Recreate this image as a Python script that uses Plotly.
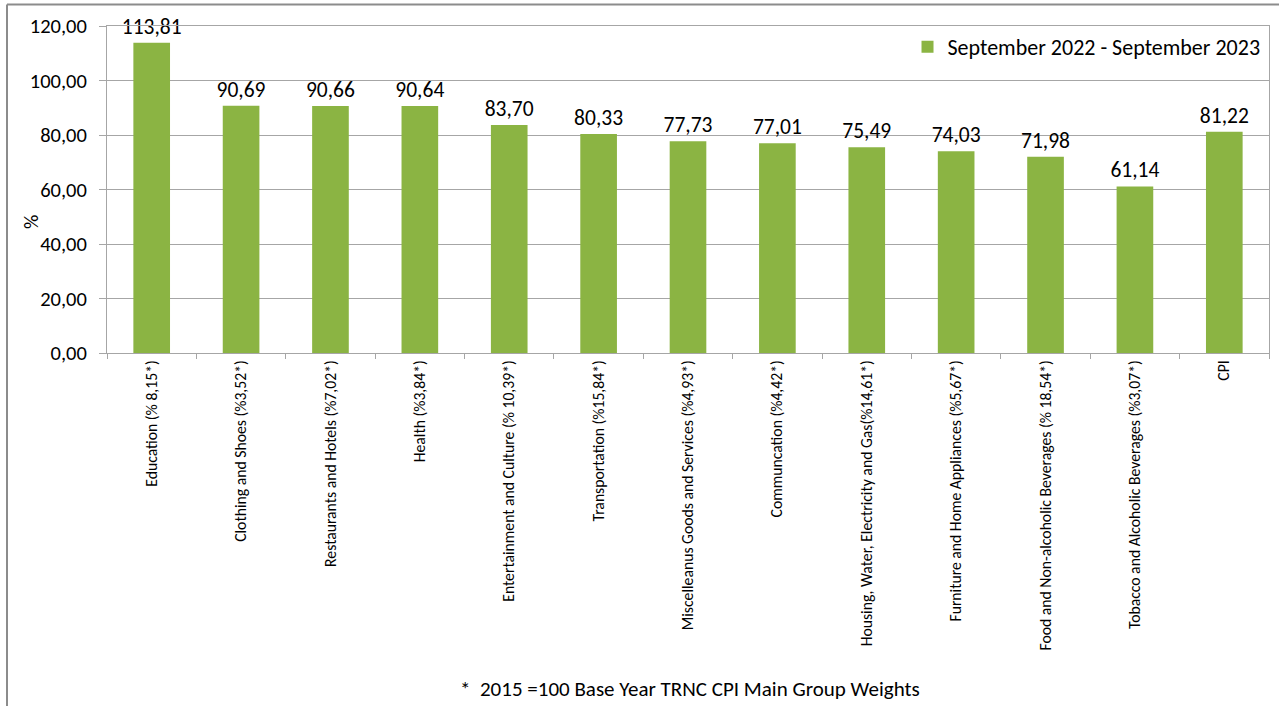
import plotly.graph_objects as go

categories = [
    "Education (% 8,15*)",
    "Clothing and Shoes (%3,52*)",
    "Restaurants and Hotels (%7,02*)",
    "Health (%3,84*)",
    "Entertainment and Culture (% 10,39*)",
    "Transportation (%15,84*)",
    "Miscelleanus Goods and Services (%4,93*)",
    "Communcation (%4,42*)",
    "Housing, Water, Electricity and Gas(%14,61*)",
    "Furniture and Home Appliances (%5,67*)",
    "Food and Non-alcoholic Beverages (% 18,54*)",
    "Tobacco and Alcoholic Beverages (%3,07*)",
    "CPI",
]
values = [113.81, 90.69, 90.66, 90.64, 83.70, 80.33, 77.73, 77.01, 75.49, 74.03, 71.98, 61.14, 81.22]
series_name = "September 2022 - September 2023"
y_ticks = [0, 20, 40, 60, 80, 100, 120]
footnote = "*  2015 =100 Base Year TRNC CPI Main Group Weights"

FONT = "Calibri, Carlito, Lato, sans-serif"
GRID = "#A6A6A6"

fig = go.Figure()
fig.add_trace(go.Bar(
    x=categories,
    y=values,
    name=series_name,
    width=0.41,
    marker=dict(color="#8BB443", line=dict(width=0)),
    texttemplate="%{y:.2f}",
    textposition="outside",
    constraintext="none",
    textfont=dict(family=FONT, size=21.5, color="#000000"),
    cliponaxis=False,
    showlegend=True,
))

W, H = 1279, 706
ml, mr, mt, mb = 107, 10, 26, 353
pw, ph = W - ml - mr, H - mt - mb

def px_x(px):
    return (px - ml) / pw

def px_y(py):
    return (H - mb - py) / ph

fig.update_layout(
    width=W, height=H,
    margin=dict(l=ml, r=mr, t=mt, b=mb, autoexpand=False),
    paper_bgcolor="white",
    plot_bgcolor="white",
    separators=", ",
    bargap=0.59,
    font=dict(family=FONT, color="#000000"),
    showlegend=True,
    legend=dict(
        x=0.997, xanchor="right", y=1.0, yanchor="top",
        bgcolor="rgba(0,0,0,0)",
        font=dict(family=FONT, size=22, color="#000000"),
        itemsizing="constant", itemwidth=30,
    ),
    xaxis=dict(
        type="category",
        showline=True, linecolor=GRID, linewidth=1, mirror=True,
        ticks="outside", tickson="boundaries", ticklen=5, tickcolor=GRID,
        tickangle=-90,
        tickfont=dict(family=FONT, size=15.7, color="#000000"),
        showgrid=False,
    ),
    yaxis=dict(
        range=[0, 120],
        tickvals=y_ticks,
        tickformat=".2f",
        showline=True, linecolor=GRID, linewidth=1, mirror=True,
        ticks="outside", ticklen=7, tickcolor=GRID,
        ticklabelstandoff=8,
        tickfont=dict(family=FONT, size=20.5, color="#000000"),
        showgrid=True, gridcolor=GRID, gridwidth=1,
        zeroline=False,
    ),
)

# y-axis title
fig.add_annotation(
    text="%", xref="paper", yref="paper",
    x=px_x(31), y=px_y(222), xanchor="center", yanchor="middle",
    textangle=-90, showarrow=False,
    font=dict(family=FONT, size=20, color="#000000"),
)

# outer chart frame (partially visible top and left edges)
fig.add_shape(type="line", xref="paper", yref="paper",
              x0=px_x(7), x1=px_x(1290), y0=px_y(4.5), y1=px_y(4.5),
              line=dict(color="#8C8C8C", width=2))
fig.add_shape(type="line", xref="paper", yref="paper",
              x0=px_x(7), x1=px_x(7), y0=px_y(4.5), y1=px_y(720),
              line=dict(color="#8C8C8C", width=2))

fig.add_annotation(
    text=footnote, xref="paper", yref="paper",
    x=px_x(690), y=px_y(704), xanchor="center", yanchor="bottom",
    showarrow=False, font=dict(family=FONT, size=21, color="#000000"),
)

fig.write_html("out.html")
